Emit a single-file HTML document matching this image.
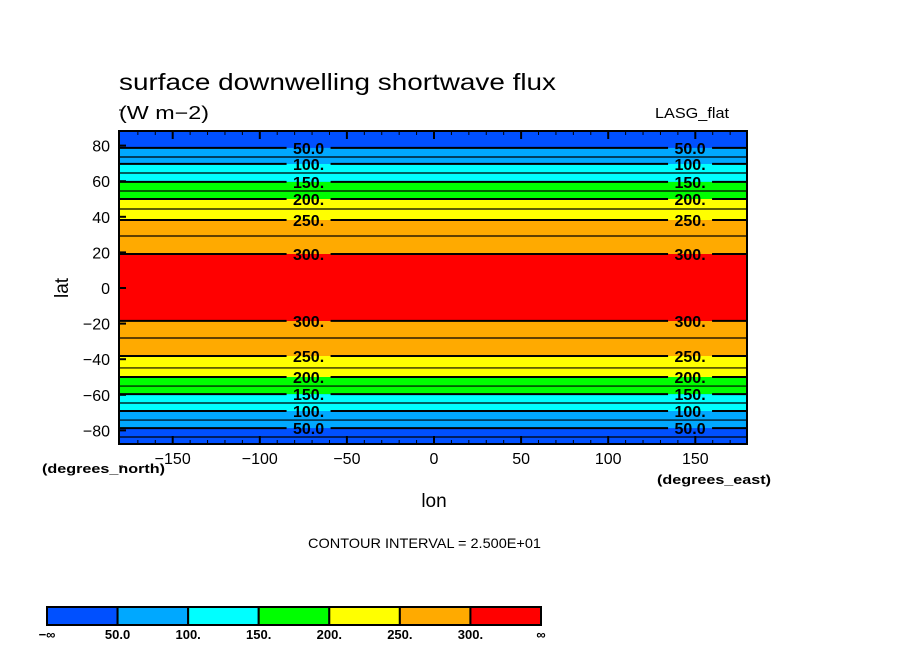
<!DOCTYPE html>
<html><head><meta charset="utf-8"><style>
html,body{margin:0;padding:0;background:#fff;}
svg{display:block;font-family:"Liberation Sans",sans-serif;}
</style></head><body>
<svg id="chart" width="904" height="654" viewBox="0 0 904 654">
<text x="119" y="90" font-size="23" textLength="437" lengthAdjust="spacingAndGlyphs">surface downwelling shortwave flux</text>
<text x="119" y="119" font-size="18" textLength="90" lengthAdjust="spacingAndGlyphs">(W m−2)</text>
<text x="655" y="118" font-size="15" textLength="74" lengthAdjust="spacingAndGlyphs">LASG_flat</text>
<g id="plot"></g>
<text transform="translate(68,288) rotate(-90)" font-size="19" text-anchor="middle">lat</text>
<text x="434" y="507" font-size="19" text-anchor="middle">lon</text>
<text x="42" y="473" font-size="13" font-weight="bold" textLength="123" lengthAdjust="spacingAndGlyphs">(degrees_north)</text>
<text x="657" y="484" font-size="13" font-weight="bold" textLength="114" lengthAdjust="spacingAndGlyphs">(degrees_east)</text>
<text x="308" y="548" font-size="14" textLength="233" lengthAdjust="spacingAndGlyphs">CONTOUR INTERVAL = 2.500E+01</text>
<g id="cbar"></g>
</svg>
<script>
const levels=[25,50,75,100,125,150,175,200,225,250,275,300];
const northLat=[null,78.7,73.6,69.7,64.6,59.6,54.5,50.0,44.4,38.2,29.2,19.1];
const southLat=[-83.7,-78.7,-74.2,-69.1,-64.6,-59.6,-55.1,-50.0,-44.9,-38.2,-28.1,-18.5];
const fillColors=["#0050ff","#00a8ff","#00ffff","#00ff00","#ffff00","#ffaa00","#ff0000"];
const cbarLabels=["−∞","50.0","100.","150.","200.","250.","300.","∞"];
const latTicks=[80,60,40,20,0,-20,-40,-60,-80];
const lonTicks=[-150,-100,-50,0,50,100,150];
const labelLons=[-72,147];

const NS="http://www.w3.org/2000/svg";
const X0=119,X1=747,Y0=131,Y1=444;
const xs=lon=>434+lon*1.742;
const ys=lat=>288-lat*1.78;
const g=document.getElementById('plot');
function mk(t,a,p){const e=document.createElementNS(NS,t);for(const k in a)e.setAttribute(k,a[k]);(p||g).appendChild(e);return e;}
function band(l){return Math.max(0,Math.min(6,Math.floor(l/50)));}
let bg=mk('rect',{x:X0,y:Y0,width:X1-X0,height:Y1-Y0,fill:fillColors[0]});


function fillBand(yTop,yBot,c,name){const r=mk('rect',{x:X0,y:yTop,width:X1-X0,height:Math.max(0,yBot-yTop),fill:c});

}
for(let i=0;i<levels.length;i++){
  const lv=levels[i];const c=fillColors[band(lv)];
  if(northLat[i]!==null){const yt=ys(northLat[i]);const yb=(i+1<levels.length)?ys(northLat[i+1]):ys(0);fillBand(yt,yb,c,'band-north-'+lv);}
  const yt2=(i+1<levels.length)?ys(southLat[i+1]):ys(0);fillBand(yt2,ys(southLat[i]),c,'band-south-'+lv);
}
fillBand(ys(northLat[11]),ys(southLat[11]),fillColors[6],'band-max');
function contour(lat,lv,name){
  const y=ys(lat);const lab=(lv%50===0);
  const lw=lab?2:1.2;
  if(lab){
    const segs=[[X0,xs(labelLons[0])-22],[xs(labelLons[0])+22,xs(labelLons[1])-22],[xs(labelLons[1])+22,X1]];
    segs.forEach(s=>{const l=mk('line',{x1:s[0],x2:s[1],y1:y,y2:y,stroke:'#000','stroke-width':lw});
    
    });
    labelLons.forEach(lo=>{const t=mk('text',{x:xs(lo),y:y+6,'font-size':16,'text-anchor':'middle','font-weight':'bold'});t.textContent=lv===50?'50.0':lv+'.';
    
    });
  } else {
    const l=mk('line',{x1:X0,x2:X1,y1:y,y2:y,stroke:'#000','stroke-width':lw});
    
    
  }
}
for(let i=0;i<levels.length;i++){
  if(northLat[i]!==null)contour(northLat[i],levels[i],'contour-north-'+levels[i]);
  contour(southLat[i],levels[i],'contour-south-'+levels[i]);
}
let fr=mk('rect',{x:X0,y:Y0,width:X1-X0,height:Y1-Y0,fill:'none',stroke:'#000','stroke-width':2});


latTicks.forEach(v=>{const y=ys(v);
  const tk=mk('line',{x1:X0,x2:X0+7,y1:y,y2:y,stroke:'#000','stroke-width':2});
  
  
  const t=mk('text',{x:X0-9,y:y+6,'font-size':16,'text-anchor':'end'});t.textContent=v<0?'−'+(-v):v;
  
  });
for(let v=-10;v<=10;v+=2){if(v%20===0)continue;const y=ys(v*10);const tk=mk('line',{x1:X0,x2:X0+4,y1:y,y2:y,stroke:'#000','stroke-width':1});

}
for(let v=-170;v<=170;v+=10){const x=xs(v);const maj=v%50===0;
  [[Y0,Y0+(maj?8:4)],[Y1,Y1-(maj?8:4)]].forEach(p=>{const tk=mk('line',{x1:x,x2:x,y1:p[0],y2:p[1],stroke:'#000','stroke-width':maj?2:1});
  
  });}
lonTicks.forEach(v=>{const t=mk('text',{x:xs(v),y:464,'font-size':16,'text-anchor':'middle'});t.textContent=v<0?'−'+(-v):v;
  
  });
const cb=document.getElementById('cbar');
const cx0=47,cx1=541,cw=(cx1-cx0)/fillColors.length;
fillColors.forEach((c,i)=>{const r=mk('rect',{x:cx0+i*cw,y:607,width:cw,height:18,fill:c,stroke:'#000','stroke-width':2},cb);
  
  });
cbarLabels.forEach((s,i)=>{const t=mk('text',{x:cx0+i*cw,y:639,'font-size':13,'font-weight':'bold','text-anchor':'middle'},cb);t.textContent=s;
  
  });
</script>
</body></html>
